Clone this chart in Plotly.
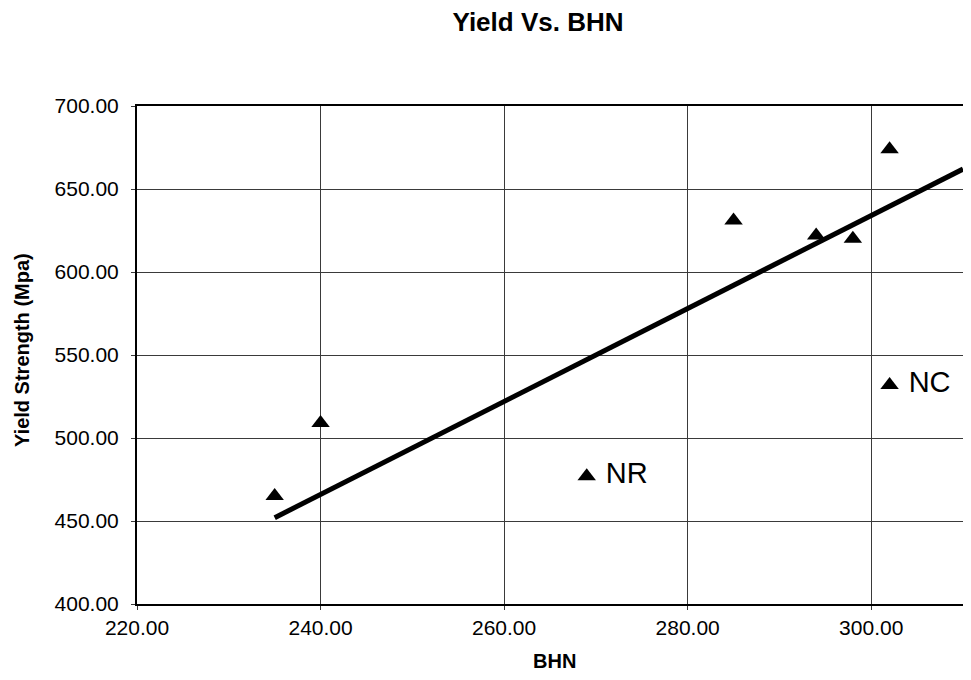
import plotly.graph_objects as go

# Data
bhn = [235, 240, 269, 285, 294, 298, 302, 302]
yield_mpa = [465, 509, 477, 631, 622, 620, 674, 532]
point_labels = ["", "", "NR", "", "", "", "", "NC"]

trend_x = [235, 310]
trend_y = [452, 662]

x_ticks = [220, 240, 260, 280, 300]
y_ticks = [400, 450, 500, 550, 600, 650, 700]

FONT = "Liberation Sans, Arial, sans-serif"
# page body has an 8px margin; figure sized so that it fits the 971x680 window
OFF = 8
W, H = 971 - 2 * OFF, 680 - 2 * OFF
L, R, T, B = 137 - OFF, 0, 106 - OFF, H - (604 - OFF)
PW, PH = W - L - R, H - T - B

fig = go.Figure()

fig.add_trace(go.Scatter(
    x=trend_x, y=trend_y, mode="lines",
    line=dict(color="black", width=5),
    showlegend=False, hoverinfo="skip", cliponaxis=True,
))

fig.add_trace(go.Scatter(
    x=bhn, y=yield_mpa, mode="markers+text",
    marker=dict(symbol="triangle-up", size=16, color="black"),
    text=[(" " + t) if t else "" for t in point_labels],
    textposition="middle right",
    textfont=dict(family=FONT, size=29, color="black"),
    showlegend=False, cliponaxis=False,
))

fig.update_layout(
    width=W, height=H,
    margin=dict(l=L, r=R, t=T, b=B, autoexpand=False),
    paper_bgcolor="white", plot_bgcolor="white",
    title=dict(
        text="<b>Yield Vs. BHN</b>",
        x=(538 - OFF) / W, xref="container", xanchor="center",
        y=1 - (22 - OFF) / H, yref="container", yanchor="middle",
        font=dict(family=FONT, size=26, color="black"),
    ),
    font=dict(family=FONT, color="black"),
    annotations=[
        dict(text="<b>Yield Strength (Mpa)</b>", textangle=-90,
             xref="paper", yref="paper",
             x=-(137 - 22) / PW, y=(604 - 350) / PH,
             xanchor="center", yanchor="middle", showarrow=False,
             font=dict(family=FONT, size=20, color="black")),
        dict(text="<b>BHN</b>",
             xref="paper", yref="paper",
             x=(554 - 137) / PW, y=-(661 - 604) / PH,
             xanchor="center", yanchor="middle", showarrow=False,
             font=dict(family=FONT, size=20, color="black")),
    ],
)

fig.update_xaxes(
    range=[220, 310], tickvals=x_ticks, tickformat=".2f",
    showgrid=True, gridcolor="#3a3a3a", gridwidth=1,
    showline=True, linecolor="black", linewidth=2, mirror=True,
    ticks="outside", ticklen=4, tickcolor="#3a3a3a",
    tickfont=dict(family=FONT, size=21, color="black"),
    zeroline=False, automargin=False,
)

fig.update_yaxes(
    range=[400, 700], tickvals=y_ticks, tickformat=".2f",
    showgrid=True, gridcolor="#3a3a3a", gridwidth=1,
    showline=True, linecolor="black", linewidth=2, mirror=True,
    ticks="outside", ticklen=4, tickcolor="#3a3a3a",
    tickfont=dict(family=FONT, size=21, color="black"),
    ticklabelstandoff=8,
    zeroline=False, automargin=False,
)

fig.write_html("out.html")
